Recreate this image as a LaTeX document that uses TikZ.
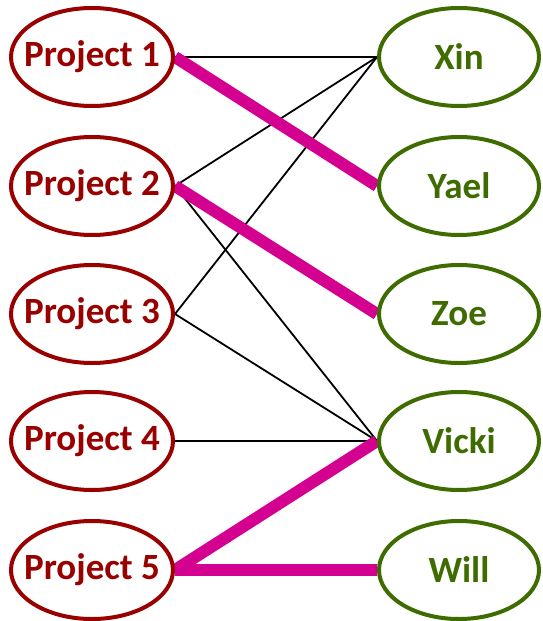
\documentclass[tikz,border=0pt]{standalone}
\usepackage{fontspec}
\setmainfont{Carlito}
\usetikzlibrary{shapes.geometric,backgrounds}
\definecolor{projred}{RGB}{153,0,0}
\definecolor{pgreen}{RGB}{62,108,0}
\definecolor{pmag}{RGB}{212,0,144}
\newcommand{\zt}[1]{\makebox[0pt]{#1}}
\begin{document}
\begin{tikzpicture}[x=1pt,y=-1pt,
  proj/.style={ellipse,draw=projred,line width=4pt,fill=white,minimum width=162pt,minimum height=98pt,inner sep=0pt,
    text=projred,font=\fontsize{37}{40}\selectfont\bfseries},
  pers/.style={ellipse,draw=pgreen,line width=4pt,fill=white,minimum width=160pt,minimum height=98pt,inner sep=0pt,
    text=pgreen,font=\fontsize{37}{40}\selectfont\bfseries},
  thin/.style={draw=black,line width=1.8pt},
  match/.style={draw=pmag,line width=12pt}]
\useasboundingbox (0,0) rectangle (542,621);
\node[proj] (p1) at (92,57) {\zt{Project 1}};
\node[proj] (p2) at (92,186) {\zt{Project 2}};
\node[proj] (p3) at (92,314) {\zt{Project 3}};
\node[proj] (p4) at (92,441) {\zt{Project 4}};
\node[proj] (p5) at (92,570) {\zt{Project 5}};
\node[pers] (x) at (459,57) {\zt{Xin}};
\node[pers] (y) at (459,186) {\zt{Yael}};
\node[pers] (z) at (459,314) {\zt{Zoe}};
\node[pers] (v) at (459,441) {\zt{Vicki}};
\node[pers] (w) at (459,570) {\zt{Will}};
\begin{pgfonlayer}{background}
\draw[thin] (p1.east) -- (x.west);
\draw[thin] (p2.east) -- (x.west);
\draw[thin] (p3.east) -- (x.west);
\draw[thin] (p2.east) -- (v.west);
\draw[thin] (p3.east) -- (v.west);
\draw[thin] (p4.east) -- (v.west);
\draw[match] (p1.east) -- (y.west);
\draw[match] (p2.east) -- (z.west);
\draw[match] (p5.east) -- (v.west);
\draw[match] (p5.east) -- (w.west);
\end{pgfonlayer}
\end{tikzpicture}
\end{document}
